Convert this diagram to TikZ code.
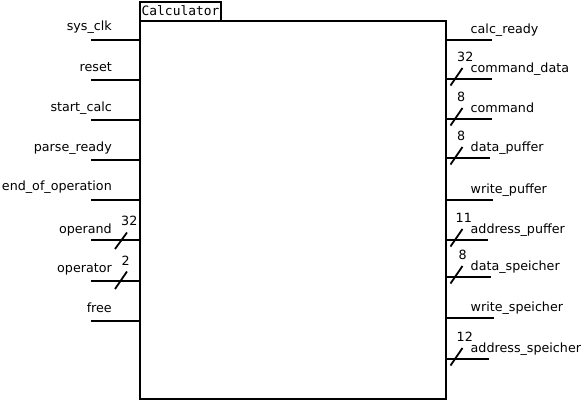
\documentclass[tikz,border=0pt]{standalone}
\usepackage{fontspec}
\setmainfont{DejaVu Sans}
\newfontfamily\monofnt{DejaVu Sans Mono}
\begin{document}
\begin{tikzpicture}[x=1pt,y=-1pt,
  pin/.style={line width=2pt},
  busmark/.style={line width=1.8pt},
  lbl/.style={inner sep=0pt, font=\fontsize{12.7}{15}\selectfont},
  lleft/.style={lbl, anchor=base east},
  lright/.style={lbl, anchor=base west},
  box/.style={draw, line width=2pt, inner sep=0pt}]
\useasboundingbox (0,0) rectangle (581,400);
% main box
\node[box, anchor=north west, minimum width=306pt, minimum height=378pt] (calc) at (139,20) {};
\node[box, anchor=north west, minimum width=81pt, minimum height=19pt] (title) at (139,1) {};
\node[lbl, anchor=base west, font=\monofnt\fontsize{12.9}{15}\selectfont] (titletext) at (141.5,15.5) {Calculator};
% left pins
\foreach \nm/\yy/\txt/\off in {sysclk/40/sys\_clk/9.5, reset/80/reset/8.5, startcalc/120/start\_calc/8.5, parseready/160/parse\_ready/8.5, endop/200/end\_of\_operation/9.3, operand/240/operand/6.8, operator/281/operator/8.3, free/321/free/8.3}{
  \coordinate (\nm-end) at (91,\yy);
  \draw[pin] (\nm-end) -- (calc.west |- \nm-end);
  \node[lleft] (\nm-lbl) at (112,\yy-\off) {\txt};
}
% left bus marks
\coordinate (operand-m1) at (115,249);
\coordinate (operand-m2) at (127,232.5);
\draw[busmark] (operand-m1) -- (operand-m2);
\node[lright] (operand-w) at (121,225.3) {32};
\coordinate (operator-m1) at (115,289);
\coordinate (operator-m2) at (127,271.5);
\draw[busmark] (operator-m1) -- (operator-m2);
\node[lright] (operator-w) at (121.5,265.7) {2};
% right pins
\foreach \nm/\yy/\xe/\txt in {calcready/40/492/calc\_ready, commanddata/79/492/command\_data, command/119/492/command, datapuffer/158/490/data\_puffer, writepuffer/200/493/write\_puffer, addresspuffer/240/488/address\_puffer, dataspeicher/277/491/data\_speicher, writespeicher/318/494/write\_speicher, addressspeicher/359/489/address\_speicher}{
  \coordinate (\nm-end) at (\xe,\yy);
  \draw[pin] (calc.east |- \nm-end) -- (\nm-end);
  \node[lright] (\nm-lbl) at (470.5,\yy-6.3) {\txt};
}
% right bus marks
\foreach \nm/\yy/\w/\xs in {commanddata/79/32/457, command/119/8/457, datapuffer/158/8/457, addresspuffer/240/11/455.5, dataspeicher/277/8/458.5, addressspeicher/359/12/456.5}{
  \coordinate (\nm-m1) at (450.5,\yy+6.5);
  \coordinate (\nm-m2) at (462.5,\yy-11);
  \draw[busmark] (\nm-m1) -- (\nm-m2);
  \node[lright] (\nm-w) at (\xs,\yy-17.3) {\w};
}
\end{tikzpicture}
\end{document}
